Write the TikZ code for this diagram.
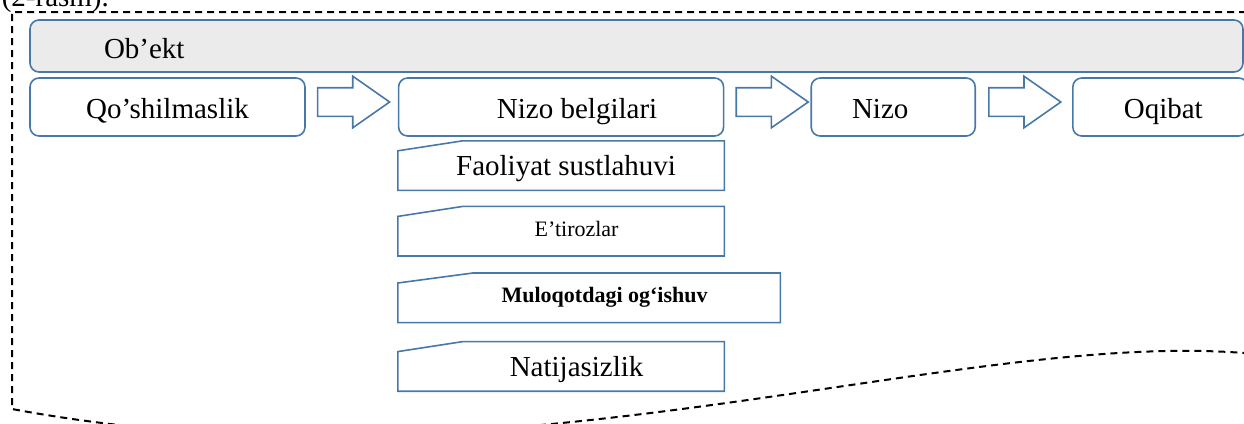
\documentclass[tikz,border=0pt]{standalone}
\usepackage{fontspec}
\setmainfont{Liberation Serif}
\usetikzlibrary{positioning,shapes.arrows}
\definecolor{boxblue}{RGB}{71,120,168}
\definecolor{objgray}{RGB}{235,235,235}
\tikzset{
    every picture/.style={
        x=1pt,y=-1pt,line width=1.6pt,
        box/.style={draw=boxblue,rounded corners=9pt,minimum height=58pt,inner sep=0pt,
                    font=\fontsize{29}{34}\selectfont,text height=26pt,text depth=4pt},
        objbox/.style={box,fill=objgray,minimum height=52pt,text width=1065pt,inner xsep=74pt,
                    align=left,text height=27pt,text depth=3pt},
        tab/.style={minimum height=48pt,inner sep=0pt,font=\fontsize{29}{34}\selectfont,
                    text height=24pt,text depth=4pt},
        smalltab/.style={tab,font=\fontsize{22}{26}\selectfont,text height=14pt,text depth=4pt},
        blockarrow/.style={draw=boxblue,single arrow,single arrow tip angle=70,
                    single arrow head extend=11.5pt,minimum height=72pt,minimum width=50pt,
                    inner sep=13.5pt}
    }
}

\begin{document}
\begin{tikzpicture}
    \useasboundingbox (0,0) rectangle (1244,423);
    % caption line cut off at the top
    \node[anchor=base west,inner sep=0pt,font=\fontsize{29}{34}\selectfont] (cap) at (1,6) {(2-rasm).};
    % frame
    \draw[dash pattern=on 7pt off 5pt,line width=2pt]
        (1270,12) -- (12,12) -- (12,409) .. controls (500,500) and (950,330) .. (1244,353) -- (1270,353);

    \node[objbox]                         (obekt)  at (636.5,46) {Ob’ekt};
    \node[box,minimum width=275pt]        (qosh)   at (167.5,107) {Qo’shilmaslik};
    \node[box,minimum width=325pt]        (belgi)  [right=92pt of qosh] {\hspace*{32pt}Nizo belgilari};
    \node[box,minimum width=164pt]        (nizo)   [right=86pt of belgi] {Nizo\hspace*{26pt}};
    \node[box,minimum width=175pt]        (oqibat) [right=96pt of nizo] {\hspace*{6pt}Oqibat};

    \node[blockarrow] (ar1) [right=11pt of qosh,yshift=5pt] {};
    \node[blockarrow] (ar2) [right=11pt of belgi,yshift=5pt] {};
    \node[blockarrow] (ar3) [right=12pt of nizo,yshift=5pt] {};

    \node[tab,minimum width=325pt]      (faol) [below=4pt of belgi] {\hspace*{10pt}Faoliyat sustlahuvi};
    \node[smalltab,minimum width=325pt] (etir) [below=16pt of faol] {\hspace*{31pt}E’tirozlar};
    \node[smalltab,minimum width=381pt,font=\fontsize{22}{26}\selectfont\bfseries]
                                        (mulo) [below=17pt of etir,xshift=28pt] {\hspace*{31pt}Muloqotdagi og‘ishuv};
    \node[tab,minimum width=325pt]      (nati) [below=19pt of mulo,xshift=-28pt] {\hspace*{31pt}Natijasizlik};

    % outlines with the cut top-left corner
    \foreach \t/\c in {faol/65,etir/65,mulo/75,nati/65}
        \draw[boxblue] (\t.south west) -- ([yshift=-10pt]\t.north west) -- ([xshift=\c pt]\t.north west)
            -- (\t.north east) -- (\t.south east) -- cycle;
\end{tikzpicture}
\end{document}
